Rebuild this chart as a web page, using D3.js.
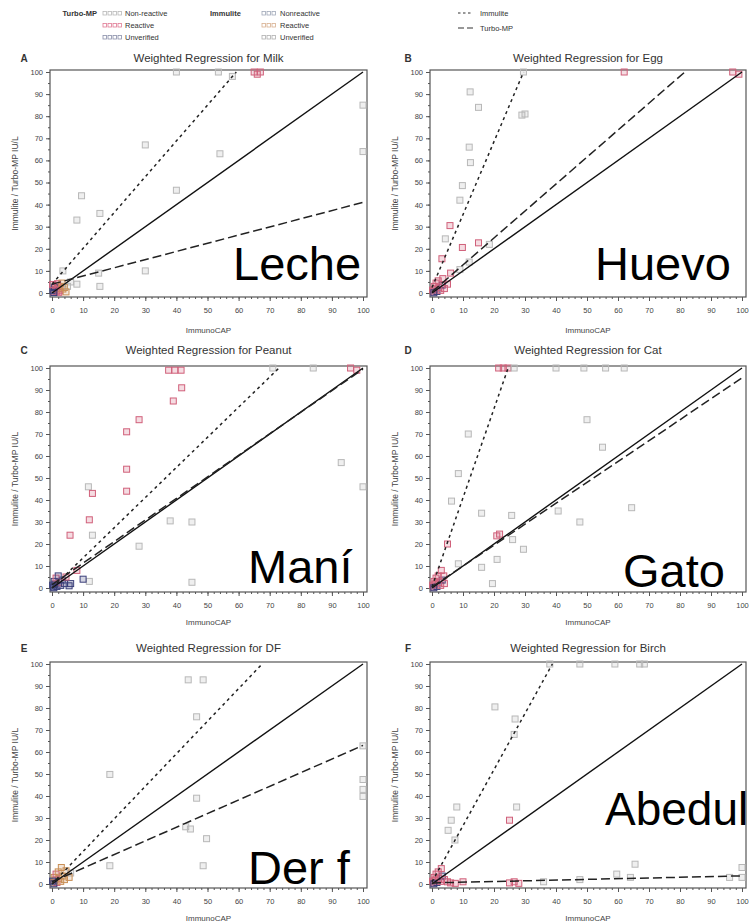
<!DOCTYPE html>
<html><head><meta charset="utf-8">
<script src="https://cdn.jsdelivr.net/npm/d3@7"></script>
<style>body{margin:0;background:#fff;} svg{display:block;font-family:"Liberation Sans",Arial,sans-serif;}</style>
</head><body><svg id="c" width="751" height="924"></svg>
<script>
// ---------- DATA ----------
const panelLetters = ["A","B","C","D","E","F"];
const panelTitles = ["Weighted Regression for Milk","Weighted Regression for Egg","Weighted Regression for Peanut","Weighted Regression for Cat","Weighted Regression for DF","Weighted Regression for Birch"];
const overlayLabels = ["Leche","Huevo","Maní","Gato","Der f","Abedul"];
const xTicks = [0,10,20,30,40,50,60,70,80,90,100];
const yTicks = [0,10,20,30,40,50,60,70,80,90,100];
const xAxisLabel = "ImmunoCAP";
const yAxisLabel = "Immulite / Turbo-MP IU/L";
const immuliteSlope     = [1.62, 3.30, 1.37, 4.05, 1.48, 2.55];
const immuliteIntercept = [4.0, 2.5, 0.0, 0.5, 0.0, 1.0];
const turboSlope        = [0.37, 1.22, 0.98, 0.95, 0.62, 0.032];
const turboIntercept    = [4.0, 0.5, 1.5, 0.5, 1.0, 0.5];
const turboLegend = ["Non-reactive","Reactive","Unverified"];
const immuliteLegend = ["Nonreactive","Reactive","Unverified"];
const lineLegend = ["Immulite","Turbo-MP"];

// points: [ImmunoCAP, Immulite/Turbo-MP, category]  N=nonreactive R=reactive(Turbo) Q=reactive(Immulite) U=unverified
const ptsMilk = [[40,100,'N'],[53.5,100,'N'],[58,98,'N'],[65,100,'R'],[66,99,'R'],[67,100,'R'],[100,85,'N'],[100,64,'N'],[30,67,'N'],[54,63,'N'],[40,46.5,'N'],[9.5,44,'N'],[8,33,'N'],[15.4,36,'N'],[30,10,'N'],[15.4,3,'N'],[15,9,'N'],[3.5,10,'N'],[6,5,'N'],[8,4,'N'],
 [0.5,0.5,'R'],[1,1.5,'Q'],[1.5,0.8,'R'],[2,2,'Q'],[0.8,2.5,'U'],[2.5,1,'R'],[3,3,'Q'],[1.2,3.5,'R'],[3.5,1.8,'Q'],[0.3,1.2,'U'],[2.2,0.3,'R'],[4,2.5,'Q'],[1.8,4.2,'R'],[0.6,0.2,'U'],[3.2,4.5,'Q'],[5,3,'N'],[4.5,0.5,'Q'],[0.2,3.8,'R']];
const ptsEgg = [[62,100,'R'],[97,100,'R'],[99,99,'R'],[29.5,100,'N'],[12.3,91,'N'],[15,84,'N'],[29,80.5,'N'],[30,81,'N'],[12,66,'N'],[12.4,59,'N'],[9.8,48.6,'N'],[9,42,'N'],[5.8,30.5,'R'],[4.3,24.5,'N'],[9.8,20.6,'R'],[15,22.7,'R'],[18.5,22,'N'],[3.2,15.5,'R'],[9,10.6,'N'],[6,9,'R'],[12,14,'N'],
 [0.5,0.5,'R'],[1,1.8,'R'],[1.6,0.7,'U'],[2.2,2.4,'R'],[0.7,3,'R'],[2.8,1.2,'R'],[3.3,3.6,'U'],[1.3,4.5,'R'],[0.2,1.3,'R'],[4,2,'R'],[2,5.5,'R'],[0.6,0.1,'U'],[3.5,6.5,'R'],[5,4,'R']];
const ptsPeanut = [[37.5,99,'R'],[39.5,99,'R'],[41.5,99,'R'],[71,100,'N'],[84,100,'N'],[96,100,'R'],[98,99,'R'],[41.7,91,'R'],[39,85,'R'],[28,76.5,'R'],[24,71,'R'],[24,54,'R'],[24,44,'R'],[93,57,'N'],[100,46,'N'],[11.7,46,'N'],[13,43,'R'],[12,31,'R'],[5.8,24,'R'],[13,24,'N'],[38,30.5,'N'],[45,30,'N'],[28,19,'N'],[45,2.6,'N'],[12,3,'N'],[10,4,'U'],[8,8,'R'],[6,2,'U'],
 [0.5,0.5,'U'],[1,1.8,'U'],[1.6,0.7,'U'],[2.2,2.4,'R'],[0.7,3,'U'],[2.8,1.2,'U'],[3.3,3.6,'U'],[1.3,4.5,'R'],[0.2,1.3,'U'],[4,2,'U'],[2,5.5,'U'],[0.6,0.1,'U'],[4.5,5,'R'],[5.5,1,'U']];
const ptsCat = [[21.5,100,'R'],[23,100,'R'],[24.5,100,'R'],[26.5,100,'N'],[40,100,'N'],[49,100,'N'],[56,100,'N'],[62,100,'N'],[50,76.5,'N'],[55,64,'N'],[11.7,70,'N'],[8.5,52,'N'],[6.3,39.5,'N'],[16,34,'N'],[25.7,33,'N'],[40.7,35,'N'],[47.7,30,'N'],[64.4,36.5,'N'],[20.9,23.7,'R'],[21.8,24.5,'R'],[26,22,'N'],[29.5,17.6,'N'],[21,13,'N'],[16,9.4,'N'],[8.5,11,'N'],[19.5,2,'N'],[5,20,'R'],[3,8,'R'],
 [0.5,0.5,'R'],[1,1.8,'R'],[1.6,0.7,'U'],[2.2,2.4,'R'],[0.7,3,'R'],[2.8,1.2,'R'],[3.3,3.6,'U'],[1.3,4.5,'R'],[0.2,1.3,'R'],[4,2,'R'],[2,5.5,'R'],[0.6,0.1,'U'],[3.8,5.5,'R']];
const ptsDF = [[43.8,92.8,'N'],[48.6,92.8,'N'],[46.5,76,'N'],[18.6,49.8,'N'],[46.5,39,'N'],[100,62.8,'N'],[100,47.5,'N'],[100,43,'N'],[100,39.8,'N'],[43,26,'N'],[44.5,25,'N'],[49.7,20.6,'N'],[48.6,8.3,'N'],[18.6,8.3,'N'],[6,5,'N'],
 [0.5,0.5,'Q'],[1,1.8,'Q'],[1.6,0.7,'R'],[2.2,2.4,'Q'],[0.7,3,'Q'],[2.8,1.2,'Q'],[3.3,3.6,'Q'],[1.3,4.5,'R'],[0.2,1.3,'U'],[4,2,'Q'],[2,5.5,'Q'],[0.6,0.1,'U'],[4.5,6,'Q'],[3,7.5,'Q'],[5.5,3,'Q']];
const ptsBirch = [[38,100,'N'],[47.7,100,'N'],[59,100,'N'],[67,100,'N'],[68.5,100,'N'],[20.3,80.5,'N'],[26.8,75,'N'],[26.5,68,'N'],[8,35,'N'],[27.3,35,'N'],[25,29,'R'],[6.2,29,'N'],[5.2,24.4,'N'],[7.4,20,'N'],[65.5,9,'N'],[100,7.5,'N'],[100,3,'N'],[59.6,4.5,'N'],[64,3,'N'],[96,3,'N'],[25,0.5,'R'],[26.5,1,'R'],[28,0.3,'R'],[36,1,'N'],[47.7,2,'N'],[7.5,0.3,'R'],[10,1,'R'],
 [0.5,0.5,'R'],[1,1.8,'R'],[1.6,0.7,'U'],[2.2,2.4,'R'],[0.7,3,'R'],[2.8,1.2,'R'],[3.3,3.6,'U'],[1.3,4.5,'R'],[0.2,1.3,'R'],[4,2,'R'],[2,5.5,'R'],[0.6,0.1,'U'],[5,1,'R'],[6,0.5,'R'],[3,7,'R']];
const panelPoints = [ptsMilk, ptsEgg, ptsPeanut, ptsCat, ptsDF, ptsBirch];

// ---------- STYLE / LAYOUT ----------
const catColor = {N:"#b8b8b8", R:"#d0607a", Q:"#c98f55", U:"#3b3f7a"};
const colX = [[50,367],[430,746]];
const rowY = [
  {top:70,  bottom:297, title:58,  xlab:330},
  {top:366, bottom:592, title:350, xlab:622},
  {top:662, bottom:888, title:648, xlab:918}
];
const yLabX = [15, 395];
const letterX = [24, 408];
const overlayPos = [[233,280],[595,280],[248,583],[623,587],[248,884],[605,825]];

const svg = d3.select("#c");

panelTitles.forEach((title, i) => {
  const col = i % 2, row = Math.floor(i / 2);
  const [cx0, cx1] = colX[col];
  const r = rowY[row];
  const x = d3.scaleLinear().domain([0,100]).range([cx0+2, cx1-4]);
  const y = d3.scaleLinear().domain([0,100]).range([r.bottom-4, r.top+2]);
  const g = svg.append("g");

  const styleAxis = sel => {
    sel.select(".domain").remove();
    sel.selectAll("line").attr("stroke","#555");
    sel.selectAll("text").attr("font-size","7.5px").attr("fill","#444").attr("font-family","Liberation Sans, Arial, sans-serif");
  };
  g.append("g").attr("transform",`translate(0,${r.bottom})`)
    .call(d3.axisBottom(x).tickValues(d3.range(0,101,2)).tickSize(2).tickFormat(""))
    .call(styleAxis);
  g.append("g").attr("transform",`translate(0,${r.bottom})`)
    .call(d3.axisBottom(x).tickValues(xTicks).tickSize(4).tickPadding(7))
    .call(styleAxis);
  g.append("g").attr("transform",`translate(${cx0},0)`)
    .call(d3.axisLeft(y).tickValues(d3.range(0,101,5)).tickSize(2).tickFormat(""))
    .call(styleAxis);
  g.append("g").attr("transform",`translate(${cx0},0)`)
    .call(d3.axisLeft(y).tickValues(yTicks).tickSize(4).tickPadding(3))
    .call(styleAxis);

  g.append("rect").attr("x",cx0).attr("y",r.top).attr("width",cx1-cx0).attr("height",r.bottom-r.top)
    .attr("fill","none").attr("stroke","#555").attr("stroke-width",1.2);

  g.append("text").attr("x",(cx0+cx1)/2).attr("y",r.title+4).attr("text-anchor","middle")
    .attr("font-size","11.5px").attr("fill","#333").text(title);
  g.append("text").attr("x",letterX[col]).attr("y",r.title+4).attr("text-anchor","middle")
    .attr("font-size","10px").attr("font-weight","bold").attr("fill","#333").text(panelLetters[i]);
  g.append("text").attr("x",(cx0+cx1)/2).attr("y",r.xlab+3).attr("text-anchor","middle")
    .attr("font-size","8px").attr("fill","#444").text(xAxisLabel);
  g.append("text").attr("transform",`translate(${yLabX[col]},${(r.top+r.bottom)/2}) rotate(-90)`)
    .attr("text-anchor","middle").attr("dy","0.35em").attr("font-size","8.5px").attr("fill","#444").text(yAxisLabel);

  g.append("g").selectAll("rect").data(panelPoints[i]).join("rect")
    .attr("x", d => x(d[0]) - 3).attr("y", d => y(d[1]) - 3)
    .attr("width",6).attr("height",6)
    .attr("fill", d => catColor[d[2]]).attr("fill-opacity",0.22)
    .attr("stroke", d => catColor[d[2]]).attr("stroke-width",1);

  const lineGen = d3.line().x(d => x(d[0])).y(d => y(d[1]));
  const seg = (m, b) => {
    const xe = Math.min(100, (100 - b) / m);
    return [[0, b], [xe, b + m * xe]];
  };
  g.append("path").attr("d", lineGen(seg(1,0))).attr("stroke","#111").attr("stroke-width",1.4).attr("fill","none");
  g.append("path").attr("d", lineGen(seg(immuliteSlope[i], immuliteIntercept[i])))
    .attr("stroke","#222").attr("stroke-width",1.5).attr("stroke-dasharray","3,3.5").attr("fill","none");
  g.append("path").attr("d", lineGen(seg(turboSlope[i], turboIntercept[i])))
    .attr("stroke","#222").attr("stroke-width",1.5).attr("stroke-dasharray","9,4").attr("fill","none");

  svg.append("text").attr("x",overlayPos[i][0]).attr("y",overlayPos[i][1])
    .attr("font-size", i === 5 ? "46px" : "47px").attr("fill","#000").text(overlayLabels[i]);
});

// ---------- LEGEND ----------
const lg = svg.append("g").attr("font-size","7.5px").attr("fill","#333");
const rowsY = [13, 25, 37];
const turboSw = ["#b8b8b8","#e07a95","#8a90aa"];
const immSw = ["#a0a8b8","#d8b090","#b0b0b0"];
lg.append("text").attr("x",97).attr("y",rowsY[0]+3).attr("text-anchor","end").attr("font-weight","bold").text("Turbo-MP");
lg.append("text").attr("x",210).attr("y",rowsY[0]+3).attr("font-weight","bold").text("Immulite");
turboLegend.forEach((t, k) => {
  for (let j = 0; j < 4; j++) lg.append("rect").attr("x",103 + j*5).attr("y",rowsY[k]-1.5).attr("width",3.5).attr("height",3.5)
    .attr("fill","none").attr("stroke",turboSw[k]).attr("stroke-width",0.8);
  lg.append("text").attr("x",125).attr("y",rowsY[k]+3).text(t);
});
immuliteLegend.forEach((t, k) => {
  for (let j = 0; j < 3; j++) lg.append("rect").attr("x",262 + j*5).attr("y",rowsY[k]-1.5).attr("width",3.5).attr("height",3.5)
    .attr("fill","none").attr("stroke",immSw[k]).attr("stroke-width",0.8);
  lg.append("text").attr("x",280).attr("y",rowsY[k]+3).text(t);
});
lineLegend.forEach((t, k) => {
  const yy = [13, 28][k];
  lg.append("line").attr("x1",458).attr("x2",473).attr("y1",yy).attr("y2",yy)
    .attr("stroke","#333").attr("stroke-width",1.2).attr("stroke-dasharray", k === 0 ? "2.5,2.5" : "6,3");
  lg.append("text").attr("x",480).attr("y",yy+3).text(t);
});
</script></body></html>
